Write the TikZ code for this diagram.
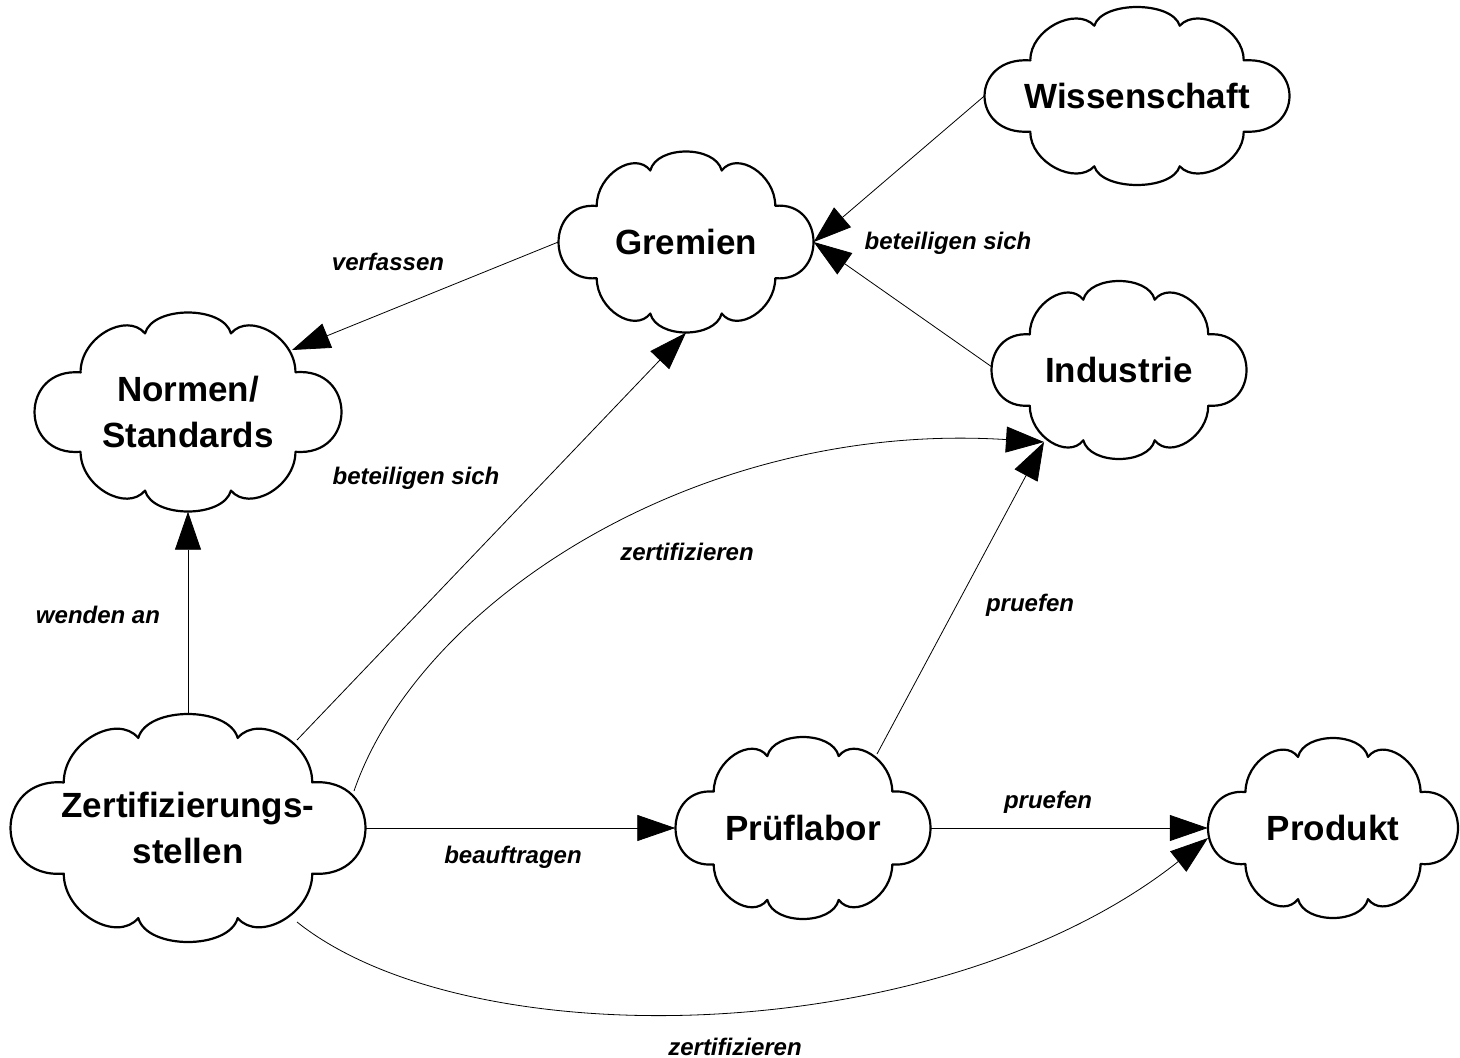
\documentclass[tikz,border=0pt]{standalone}
\usepackage{fontspec}
\setmainfont{Liberation Sans}
\usetikzlibrary{arrows.meta,calc}
\tikzset{
  cloudnode/.style={shape=rectangle, inner sep=0pt, align=center,
    font=\fontsize{35}{46}\selectfont\bfseries},
  cloudline/.style={line width=2.2pt, line join=round},
  conn/.style={line width=0.8pt, -{Triangle[length=38pt,width=26pt]}},
  lbl/.style={font=\fontsize{24}{28}\selectfont\bfseries\itshape, inner sep=0pt},
}
\newcommand\cloudat[6]{%
  \node[cloudnode, minimum width=#4pt, minimum height=#5pt] (#1) at (#2,#3) {#6};
  \draw[cloudline, shift={(#1.center)}, xscale=#4/2, yscale=#5/2]
    (-0.70,-0.40) .. controls (-0.70,-0.75) and (-0.40,-1.01) .. (-0.28,-0.79)
    .. controls (-0.23,-1.07) and (0.23,-1.07) .. (0.28,-0.79)
    .. controls (0.40,-1.01) and (0.70,-0.75) .. (0.70,-0.40)
    .. controls (1.10,-0.45) and (1.10,0.45) .. (0.70,0.40)
    .. controls (0.70,0.75) and (0.40,1.01) .. (0.28,0.79)
    .. controls (0.23,1.07) and (-0.23,1.07) .. (-0.28,0.79)
    .. controls (-0.40,1.01) and (-0.70,0.75) .. (-0.70,0.40)
    .. controls (-1.10,0.45) and (-1.10,-0.45) .. cycle;
}
\begin{document}
\begin{tikzpicture}[x=1pt,y=-1pt]
\useasboundingbox (0,0) rectangle (1460,1058);
\cloudat{wiss}{1137}{96}{305}{178}{Wissenschaft}
\cloudat{grem}{686}{242}{255}{181}{Gremien}
\cloudat{ind}{1119}{370}{255}{178}{Industrie}
\cloudat{norm}{188}{412}{307}{199}{Normen/\\Standards}
\cloudat{zert}{188}{828}{355}{228}{Zertifizierungs-\\stellen}
\cloudat{pruef}{803}{828}{255}{182}{Prüflabor}
\cloudat{prod}{1333}{828}{250}{180}{Produkt}

\draw[conn] (wiss.west) -- (grem.east);
\draw[conn] ($(ind.center)+(-127,-3)$) -- (grem.east);
\draw[conn] (grem.west) -- ($(norm.center)+(104,-62)$);
\draw[conn] ($(zert.center)+(109,-88)$) -- (grem.south);
\draw[conn] (zert.north) -- (norm.south);
\draw[conn] ($(zert.center)+(166,-37)$) .. controls (420,600) and (700,420) .. ($(ind.center)+(-75,72)$);
\draw[conn] ($(pruef.center)+(74,-74)$) -- ($(ind.center)+(-75,72)$);
\draw[conn] (zert.east) -- (pruef.west);
\draw[conn] (pruef.east) -- (prod.west);
\draw[conn] ($(zert.center)+(109,94)$) .. controls (470,1060) and (940,1050) .. ($(prod.center)+(-125,10)$);

\node[lbl] (l1) at (388,262) {verfassen};
\node[lbl] (l2) at (948,243) {beteiligen sich};
\node[lbl] (l3) at (416,478) {beteiligen sich};
\node[lbl] (l4) at (687,552) {zertifizieren};
\node[lbl] (l5) at (98,615) {wenden an};
\node[lbl] (l6) at (1030,605) {pruefen};
\node[lbl] (l7) at (513,857) {beauftragen};
\node[lbl] (l8) at (1048,802) {pruefen};
\node[lbl] (l9) at (735,1047) {zertifizieren};
\end{tikzpicture}
\end{document}
